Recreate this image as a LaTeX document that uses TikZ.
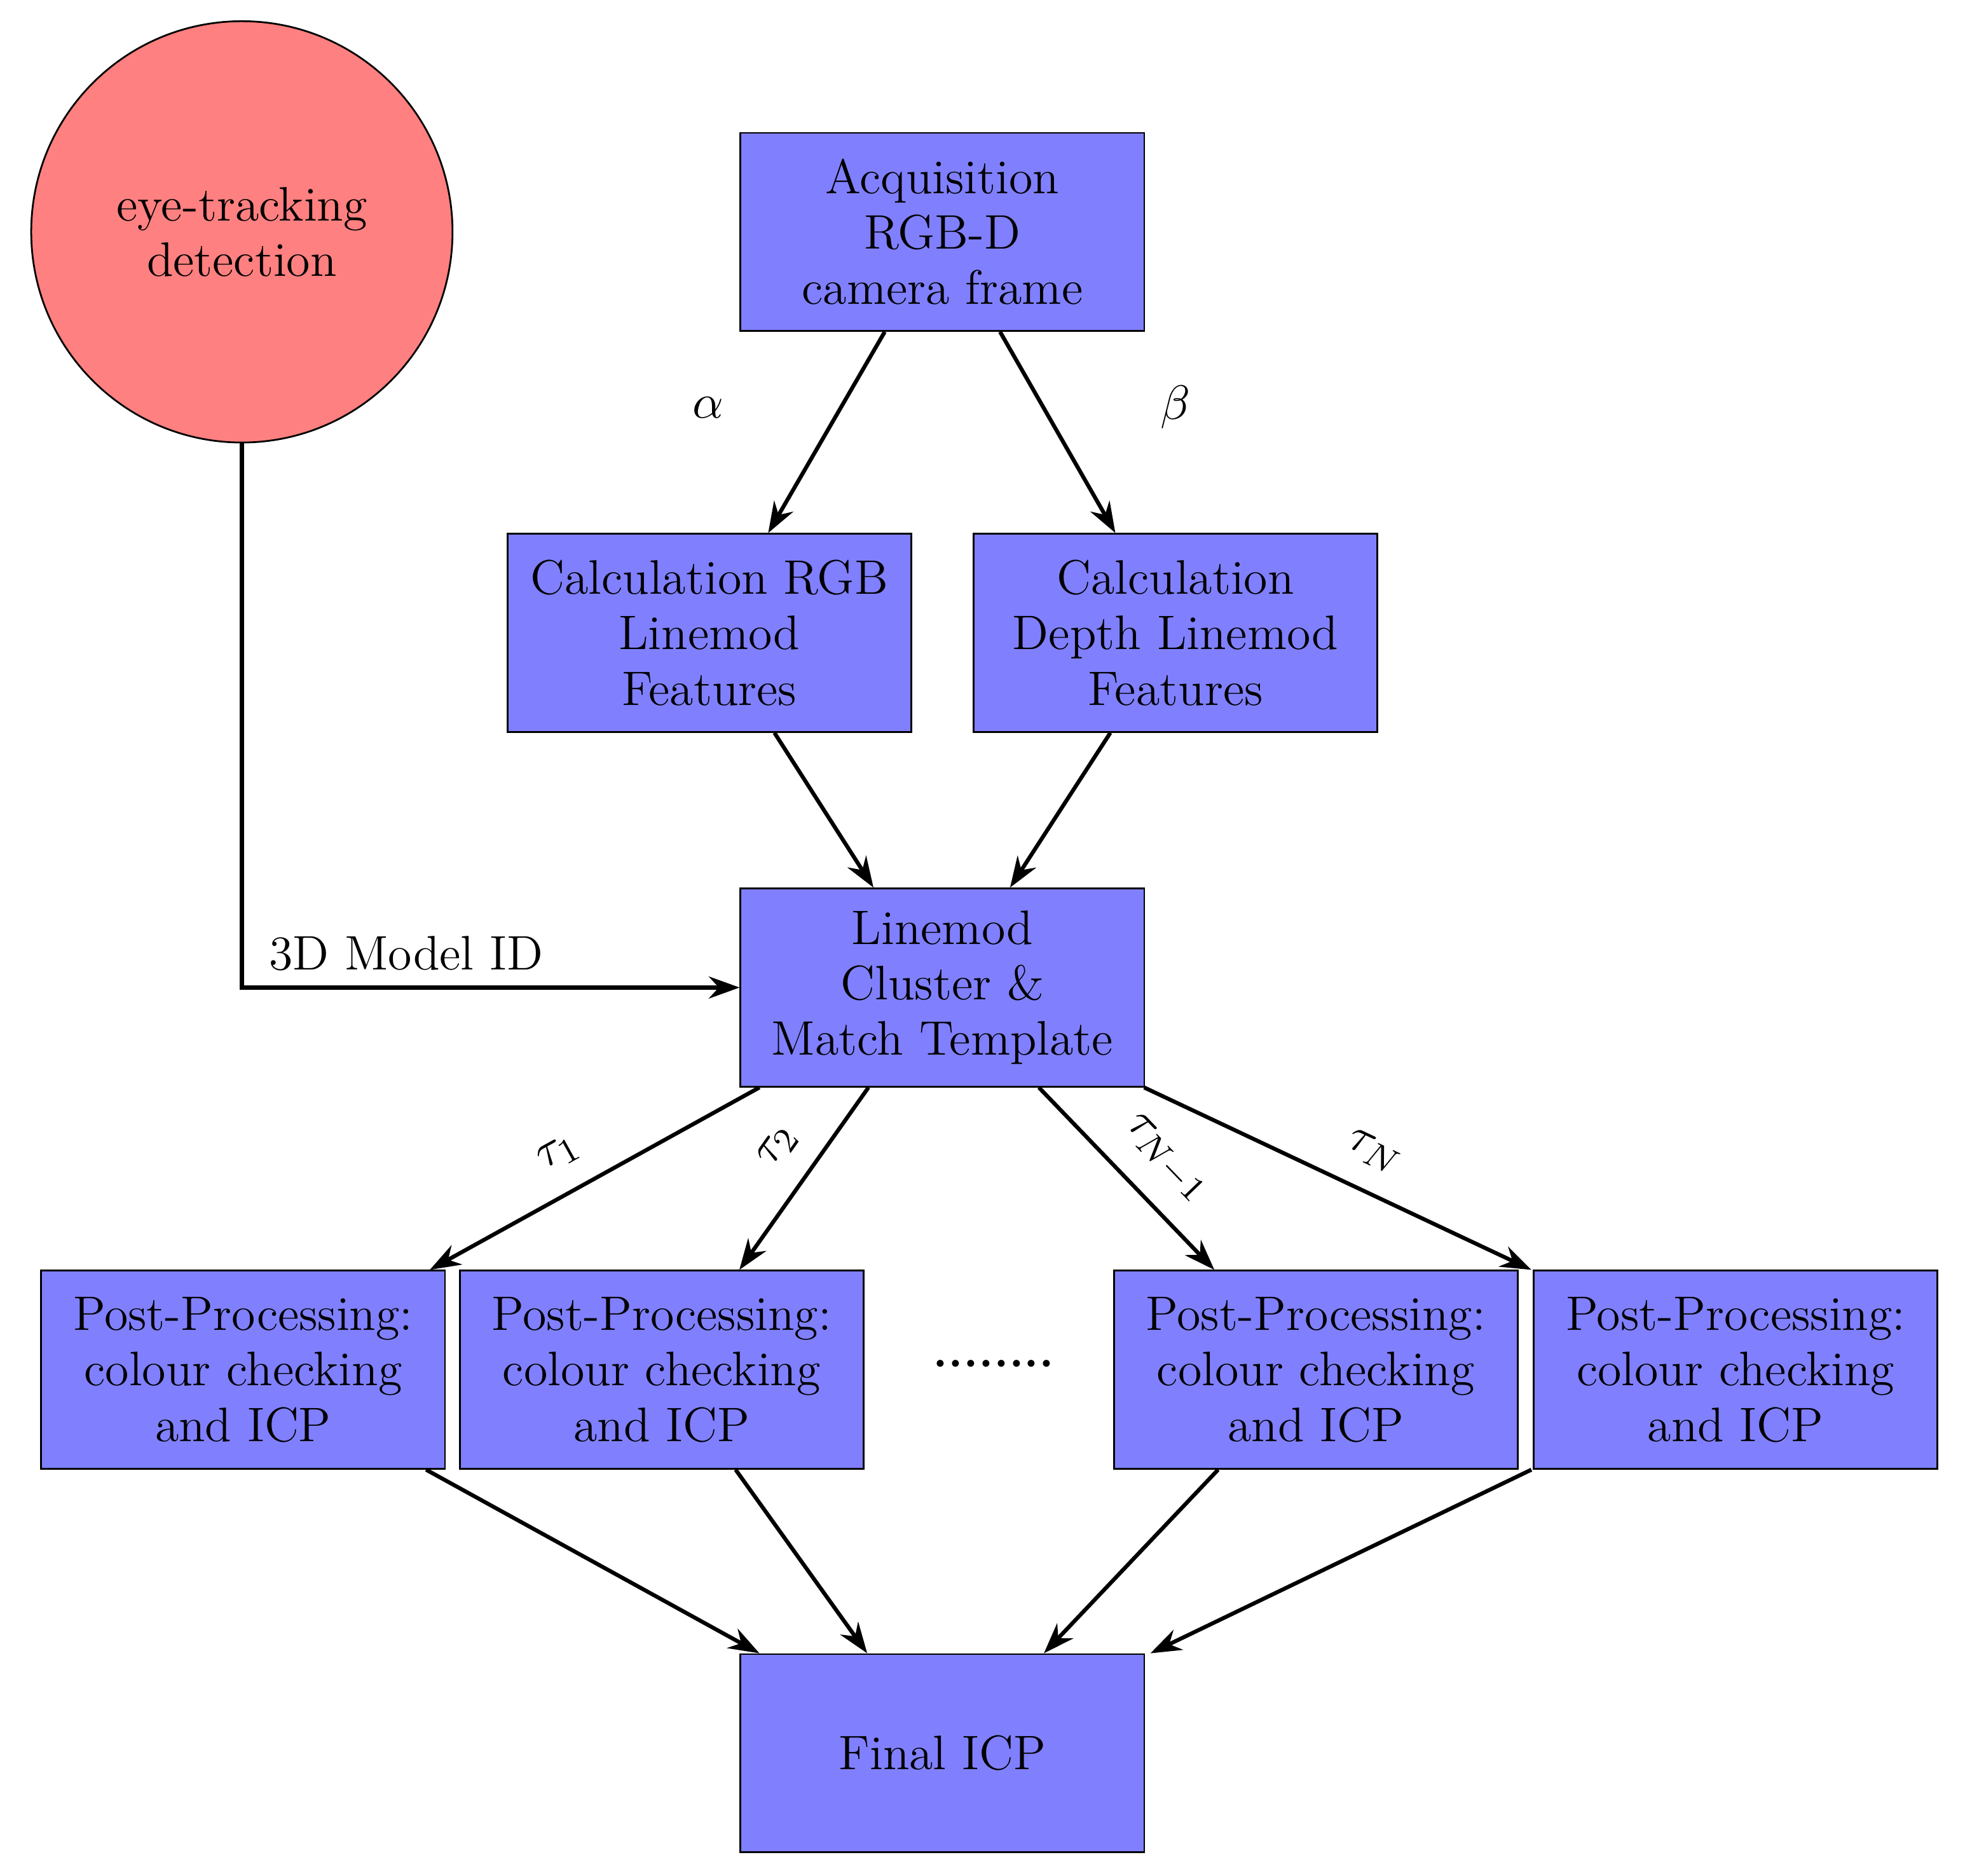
\documentclass[tikz,border=0pt]{standalone}
\usetikzlibrary{arrows.meta,calc}
\begin{document}
\begin{tikzpicture}[x=0.01cm,y=-0.01cm,
  box/.style={draw,fill=blue!50,minimum width=3.22cm,minimum height=1.58cm,align=center,inner sep=1pt,font=\fontsize{11}{12.6}\selectfont},
  arr/.style={-{Stealth[length=7pt,width=5pt]},line width=0.9pt},
  lab/.style={font=\fontsize{11}{13}\selectfont}]
\useasboundingbox (0,0) rectangle (1568,1496.6);
\node[draw,circle,fill=red!50,minimum size=3.36cm,align=center,font=\fontsize{11}{12.6}\selectfont] (eye) at (193,185) {eye-tracking\\detection};
\node[box] (acq) at (752,185) {Acquisition\\RGB-D\\camera frame};
\node[box] (rgb) at (566,505) {Calculation RGB\\Linemod\\Features};
\node[box] (dep) at (938,505) {Calculation\\Depth Linemod\\Features};
\node[box] (lm) at (752,788) {Linemod\\Cluster \&\\Match Template};
\node[box] (p1) at (194,1093) {Post-Processing:\\colour checking\\and ICP};
\node[box] (p2) at (528,1093) {Post-Processing:\\colour checking\\and ICP};
\node[box] (p3) at (1050,1093) {Post-Processing:\\colour checking\\and ICP};
\node[box] (p4) at (1385,1093) {Post-Processing:\\colour checking\\and ICP};
\node[box] (fin) at (752,1399) {Final ICP};
\node[lab] (dots) at (793,1088) {\textbf{........}};
\node[lab] (al) at (565,325) {$\alpha$};
\node[lab] (be) at (938,325) {$\beta$};
\draw[arr] ($(acq.south)+(-46,0)$) -- ($(rgb.north)+(47,0)$);
\draw[arr] ($(acq.south)+(46,0)$) -- ($(dep.north)+(-48,0)$);
\draw[arr] ($(rgb.south)+(52,0)$) -- ($(lm.north)+(-55,0)$);
\draw[arr] ($(dep.south)+(-52,0)$) -- ($(lm.north)+(54,0)$);
\draw[arr] (eye.south) |- node[lab,pos=0.665,above] {3D Model ID} (lm.west);
\draw[arr] ($(lm.south)+(-146,0)$) -- node[lab,sloped,above=2pt,pos=0.55] {$\tau_1$} ($(p1.north)+(149,0)$);
\draw[arr] ($(lm.south)+(-59,0)$) -- node[lab,sloped,above=2pt,pos=0.45] {$\tau_2$} ($(p2.north)+(62,0)$);
\draw[arr] ($(lm.south)+(77,0)$) -- node[lab,sloped,above=2pt,pos=0.55] {$\tau_{N-1}$} ($(p3.north)+(-81,0)$);
\draw[arr] ($(lm.south)+(161,0)$) -- node[lab,sloped,above=2pt,pos=0.55] {$\tau_N$} ($(p4.north)+(-163,0)$);
\draw[arr] ($(p1.south)+(146,0)$) -- ($(fin.north)+(-146,0)$);
\draw[arr] ($(p2.south)+(59,0)$) -- ($(fin.north)+(-60,0)$);
\draw[arr] ($(p3.south)+(-78,0)$) -- ($(fin.north)+(81,0)$);
\draw[arr] ($(p4.south)+(-163,0)$) -- ($(fin.north)+(166,0)$);
\end{tikzpicture}
\end{document}
